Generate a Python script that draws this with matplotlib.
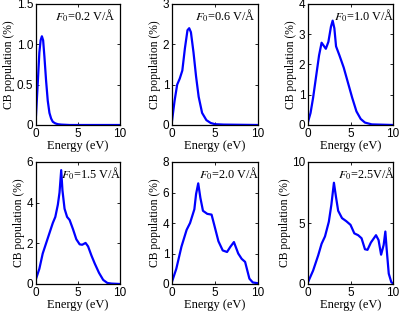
import matplotlib

matplotlib.use("Agg")
import matplotlib.pyplot as plt

plt.rcParams["mathtext.fontset"] = "stix"

# CB population vs energy, one panel per field strength
labels = [r"$F_0$=0.2 V/Å", r"$F_0$=0.6 V/Å", r"$F_0$=1.0 V/Å",
          r"$F_0$=1.5 V/Å", r"$F_0$=2.0 V/Å", r"$F_0$=2.5V/Å"]

x1 = [0, 0.2, 0.4, 0.55, 0.7, 0.85, 1.0, 1.2, 1.4, 1.6, 1.8, 2.0, 2.3, 2.6, 3.0, 4.0, 10]
y1 = [0.12, 0.5, 0.9, 1.05, 1.1, 1.05, 0.85, 0.55, 0.3, 0.15, 0.08, 0.04, 0.02, 0.01, 0.005, 0, 0]

x2 = [0, 0.3, 0.6, 0.9, 1.2, 1.5, 1.8, 2.0, 2.2, 2.5, 2.8, 3.1, 3.5, 4.0, 4.5, 5, 6, 10]
y2 = [0.1, 0.6, 1.0, 1.15, 1.35, 1.9, 2.35, 2.4, 2.3, 1.8, 1.2, 0.7, 0.3, 0.12, 0.05, 0.02, 0.01, 0]

x3 = [0, 0.3, 0.6, 1.0, 1.3, 1.6, 1.9, 2.1, 2.4, 2.7, 2.9, 3.1, 3.3, 3.7, 4.2, 4.7, 5.2, 5.7, 6.2, 6.7, 7.5, 10]
y3 = [0.1, 0.4, 0.9, 1.7, 2.3, 2.72, 2.6, 2.52, 2.75, 3.25, 3.45, 3.2, 2.6, 2.3, 1.9, 1.4, 0.9, 0.45, 0.2, 0.08, 0.02, 0]

x4 = [0, 0.4, 0.8, 1.4, 2.0, 2.3, 2.6, 2.8, 3.0, 3.15, 3.4, 3.7, 4.0, 4.4, 4.8, 5.2, 5.5,
      5.9, 6.2, 6.6, 7.0, 7.5, 8.0, 8.5, 9.0, 10]
y4 = [0.25, 0.75, 1.5, 2.25, 3.0, 3.3, 3.9, 4.5, 5.6, 4.6, 3.7, 3.3, 3.15, 2.7, 2.2, 1.95, 1.93,
      2.02, 1.85, 1.4, 1.0, 0.55, 0.2, 0.05, 0.02, 0]

x5 = [0, 0.5, 1.1, 1.7, 2.1, 2.6, 2.8, 3.05, 3.3, 3.6, 4.1, 4.6, 4.9, 5.4, 5.9, 6.4, 6.8,
      7.2, 7.7, 8.1, 8.5, 9.0, 9.4, 10]
y5 = [0.15, 1.0, 2.45, 3.55, 4.0, 4.9, 5.9, 6.6, 5.65, 4.8, 4.6, 4.55, 3.9, 2.8, 2.2, 2.1, 2.45,
      2.75, 2.0, 1.65, 1.45, 0.35, 0.1, 0.05]

x6 = [0, 0.6, 1.2, 1.6, 2.0, 2.45, 2.75, 3.05, 3.3, 3.55, 4.0, 4.5, 5.0, 5.45, 5.9, 6.3, 6.7,
      7.0, 7.4, 8.0, 8.3, 8.6, 8.9, 9.1, 9.25, 9.5, 9.8, 10]
y6 = [0.15, 1.1, 2.35, 3.3, 3.9, 5.1, 6.5, 8.3, 7.1, 6.0, 5.4, 5.15, 4.85, 4.15, 4.0, 3.75, 2.85,
      2.8, 3.4, 4.0, 3.6, 2.4, 3.2, 4.3, 2.9, 0.85, 0.15, 0.05]

series = [(x1, y1), (x2, y2), (x3, y3), (x4, y4), (x5, y5), (x6, y6)]
ymax = [1.5, 3, 4, 6, 8, 10]
yticks = [[0, 0.5, 1.0, 1.5], [0, 1, 2, 3], [0, 1, 2, 3, 4], [0, 2, 4, 6], [0, 2, 4, 6, 8], [0, 5, 10]]
yticklabels = [["0", "0.5", "1.0", "1.5"], ["0", "1", "2", "3"], ["0", "1", "2", "3", "4"],
               ["0", "2", "4", "6"], ["0", "1", "4", "6", "8"], ["0", "5", "10"]]
text_x = [0.23, 0.27, 0.3, 0.3, 0.31, 0.35]

W, H = 399, 315
lefts = [36, 172, 308]
widths = [84, 86, 85]
rows = [(4, 125), (162, 284)]

fig = plt.figure(figsize=(W / 100, H / 100), dpi=100)
for i, (xs, ys) in enumerate(series):
    r, c = divmod(i, 3)
    top, bot = rows[r]
    ax = fig.add_axes([lefts[c] / W, 1 - bot / H, widths[c] / W, (bot - top) / H])
    ax.plot(xs, ys, color="#0000ff", linewidth=1.6)
    ax.set_xlim(0, 10)
    ax.set_ylim(0, ymax[i])
    ax.set_xticks([0, 5, 10])
    ax.set_yticks(yticks[i])
    ax.set_yticklabels(yticklabels[i])
    ax.tick_params(direction="in", length=2.5, width=0.6, top=True, right=True,
                   labelsize=8.5, pad=2)
    for lab in ax.get_xticklabels() + ax.get_yticklabels():
        lab.set_family("Liberation Sans")
    for sp in ax.spines.values():
        sp.set_linewidth(0.9)
    ax.set_xlabel("Energy (eV)", family="Liberation Serif", fontsize=9, labelpad=0)
    ax.set_ylabel("CB population (%)", family="Liberation Serif", fontsize=8.4, labelpad=1)
    ax.text(text_x[i], 0.9, labels[i], transform=ax.transAxes, family="Liberation Serif",
            fontsize=8.8, ha="left", va="center")

fig.savefig("out.png", dpi=100)
